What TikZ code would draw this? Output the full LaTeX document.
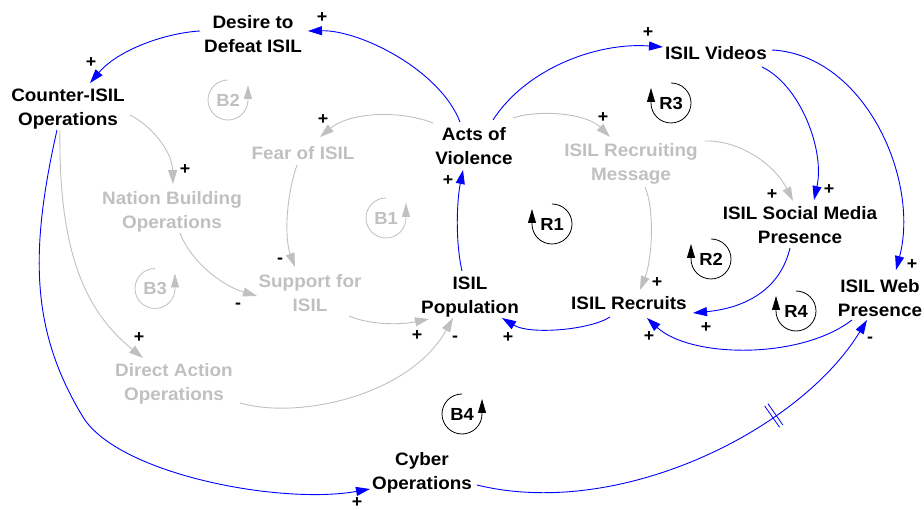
\documentclass[tikz,border=0pt]{standalone}
\usepackage{fontspec}
\setmainfont{Liberation Sans}[FakeStretch=1.05]
\usetikzlibrary{arrows.meta,calc,decorations.markings}
\definecolor{lgray}{RGB}{192,192,192}
\definecolor{lblue}{RGB}{0,0,255}
\begin{document}
\begin{tikzpicture}[x=1pt,y=-1pt,
  var/.style={font=\fontsize{18}{24}\selectfont\bfseries,align=center,inner sep=0pt},
  gvar/.style={var,text=lgray},
  sgn/.style={font=\fontsize{17}{17}\selectfont\bfseries,inner sep=0pt},
  lpk/.style={font=\fontsize{17.5}{17.5}\selectfont\bfseries,inner sep=0pt},
  lpg/.style={lpk,text=lgray},
  blk/.style={draw=lblue,line width=0.9pt,-{Triangle[length=14pt,width=9pt]}},
  gry/.style={draw=lgray,line width=0.9pt,-{Triangle[length=14pt,width=9pt]}},
  loopk/.style={draw=black,line width=0.8pt,-{Triangle[length=14pt,width=8pt]}},
  loopg/.style={draw=lgray,line width=0.8pt,-{Triangle[length=14pt,width=8pt]}},
  delay/.style={postaction={decorate},decoration={markings,
    mark=at position 0.70 with {\draw[lblue,line width=0.8pt,-] (-2,-13) -- (-2,13) (2,-13) -- (2,13);}}}
]
\path[use as bounding box] (0,0) rectangle (924,510);

% variables
\node[var]  (desire)   at (253,34.5)  {Desire to\\Defeat ISIL};
\node[var]  (counter)  at (68,109)    {Counter-ISIL\\Operations};
\node[var]  (acts)     at (474,146)   {Acts of\\Violence};
\node[var]  (videos)   at (716,53)    {ISIL Videos};
\node[gvar] (recmsg)   at (631,163.5) {ISIL Recruiting\\Message};
\node[gvar] (fear)     at (303,153)   {Fear of ISIL};
\node[gvar] (nation)   at (172,211.5) {Nation Building\\Operations};
\node[gvar] (support)  at (310,293.5) {Support for\\ISIL};
\node[gvar] (direct)   at (174,383.5) {Direct Action\\Operations};
\node[var]  (pop)      at (470,297)   {ISIL\\Population};
\node[var]  (recruits) at (629,303.5) {ISIL Recruits};
\node[var]  (social)   at (800,225.5) {ISIL Social Media\\Presence};
\node[var]  (web)      at (880,298.5) {ISIL Web\\Presence};
\node[var]  (cyber)    at (422,472.5) {Cyber\\Operations};

% connectors
\draw[blk] ($(acts)+(-14,-24)$) .. controls +(-20,-52) and +(52,-1) .. ($(desire)+(55,-3.5)$);
\draw[blk] ($(desire)+(-53,-3.5)$) .. controls +(-35,2) and +(28,-33) .. ($(counter)+(22,-26)$);
\draw[gry] ($(counter)+(62,6)$) .. controls +(20,10) and +(-1,-34) .. ($(nation)+(1,-27.5)$);
\draw[gry] ($(counter)+(-8,21)$) .. controls +(-2,130) and +(-53,-43) .. ($(direct)+(-31,-25.5)$);
\draw[blk] ($(counter)+(-11,21)$) .. controls +(-27,120) and (30,330) .. (83,417)
           .. controls (118,474) and +(-90,16) .. ($(cyber)+(-52,16.5)$);
\draw[gry] ($(nation)+(8,21.5)$) .. controls +(10,27) and +(-37,-11) .. ($(support)+(-53,2.5)$);
\draw[gry] ($(fear)+(-6,12)$) .. controls +(-12,35) and +(-10,-27) .. ($(support)+(-15,-26.5)$);
\draw[gry] ($(acts)+(-41,-23)$) .. controls +(-33,-13) and +(30,-25) .. ($(fear)+(17,-16)$);
\draw[gry] ($(support)+(39,22.5)$) .. controls +(21,9) and +(-29,6) .. ($(pop)+(-41,22)$);
\draw[gry] ($(direct)+(66,19.5)$) .. controls +(60,17) and +(-43,77) .. ($(pop)+(-17,21)$);
\draw[blk] ($(pop)+(-8,-26)$) .. controls +(-7,-31) and +(-6,30) .. ($(acts)+(-11,24)$);
\draw[blk] ($(acts)+(19,-26)$) .. controls +(32,-50) and +(-68,-5) .. ($(videos)+(-53,-6)$);
\draw[gry] ($(acts)+(39,-28)$) .. controls +(22,-8) and +(-25,-25) .. ($(recmsg)+(-21,-26.5)$);
\draw[gry] ($(recmsg)+(74,-22.5)$) .. controls +(35,-1) and +(-18,-36) .. ($(social)+(-7,-24.5)$);
\draw[gry] ($(recmsg)+(14,23.5)$) .. controls +(10,23) and +(12,-30) .. ($(recruits)+(11,-13.5)$);
\draw[blk] ($(videos)+(46,14)$) .. controls +(38,18) and +(11,-50) .. ($(social)+(14,-25.5)$);
\draw[blk] ($(videos)+(56,-3)$) .. controls +(93,5) and +(24,-90) .. ($(web)+(16,-28.5)$);
\draw[blk] ($(social)+(-10,22.5)$) .. controls +(-10,42) and +(52,-5) .. ($(recruits)+(64,9.5)$);
\draw[blk] ($(web)+(-28,21.5)$) .. controls +(-52,40) and +(43,40) .. ($(recruits)+(18,14.5)$);
\draw[blk] ($(recruits)+(-19,13.5)$) .. controls +(-20,13) and +(28,17) .. ($(pop)+(32,21)$);
\draw[blk,delay] ($(cyber)+(55,12.5)$) .. controls +(143,35) and +(-67,110) .. ($(web)+(-13,21.5)$);

% polarity signs
\node[sgn] (s1)  at (322,18)  {+};
\node[sgn] (s2)  at (91,63)   {+};
\node[sgn] (s3)  at (185,170) {+};
\node[sgn] (s4)  at (323,120) {+};
\node[sgn] (s5)  at (448,181) {+};
\node[sgn] (s6)  at (648,33)  {+};
\node[sgn] (s7)  at (603,118) {+};
\node[sgn] (s8)  at (772,195) {+};
\node[sgn] (s9)  at (829,190) {+};
\node[sgn] (s10) at (912,265) {+};
\node[sgn] (s11) at (280,261) {-};
\node[sgn] (s12) at (238,306) {-};
\node[sgn] (s13) at (139,338) {+};
\node[sgn] (s14) at (417,336) {+};
\node[sgn] (s15) at (455,339) {-};
\node[sgn] (s16) at (508,338) {+};
\node[sgn] (s17) at (657,283) {+};
\node[sgn] (s18) at (706,328) {+};
\node[sgn] (s19) at (649,337) {+};
\node[sgn] (s20) at (870,340) {-};
\node[sgn] (s21) at (357,503) {+};

% loop markers
\node[lpk] (r1) at (552,224) {R1};
\node[lpk] (r2) at (711,259) {R2};
\node[lpk] (r3) at (671,103) {R3};
\node[lpk] (r4) at (796,311) {R4};
\node[lpg] (b1) at (386,218) {B1};
\node[lpg] (b2) at (228,100) {B2};
\node[lpg] (b3) at (155,288.5) {B3};
\node[lpk] (b4) at (462,414) {B4};
\foreach \n in {r1,r2,r3,r4}
  \draw[loopk] ($(\n)+(0,-20)$) arc (-90:180:20) -- ++(0,-15);
\foreach \n in {b1,b2,b3}
  \draw[loopg] ($(\n)+(0,-20)$) arc (-90:-360:20) -- ++(0,-15);
\draw[loopk] ($(b4)+(0,-20)$) arc (-90:-360:20) -- ++(0,-15);
\end{tikzpicture}
\end{document}
